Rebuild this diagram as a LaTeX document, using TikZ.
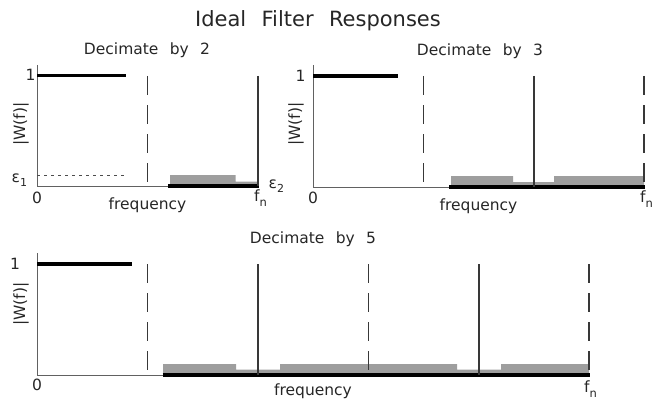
\documentclass[tikz,border=0pt]{standalone}
\usepackage{fontspec}
\setmainfont{DejaVu Sans}[WordSpace=2.3]
\newcommand{\labfont}{\fontsize{15.5}{17}\selectfont}
\newcommand{\titfont}{\fontsize{21}{24}\selectfont}
\newcommand{\subn}{\raisebox{-5pt}{\fontsize{11.5}{12}\selectfont n}}
\begin{document}
\begin{tikzpicture}[x=1pt,y=-1pt,
  axisline/.style={draw=black!62,line width=0.9pt},
  passline/.style={draw=black,line width=3.4pt},
  stopline/.style={draw=black,line width=3.6pt},
  solidv/.style={draw=black!78,line width=1.2pt},
  dashv/.style={draw=black!78,line width=1.5pt,dash pattern=on 19pt off 10pt},
  dotline/.style={draw=black!70,line width=0.7pt,dash pattern=on 2.5pt off 4.5pt},
  band/.style={fill=black!38,draw=none},
  lbl/.style={font=\labfont,text=black!85,inner sep=0pt},
  ttl/.style={font=\titfont,text=black!85,inner sep=0pt}]
\useasboundingbox (0,0) rectangle (652,401);
% title
\node[ttl,anchor=base] (title) at (318,27) {Ideal Filter Responses};
% ---------- Panel 1 ----------
\fill[band] (170,186) -- (170,175) -- (235.5,175) -- (235.5,181.5) -- (258,181.5) -- (258,186) -- cycle;
\draw[axisline] (37,65) -- (37,186) -- (258,186);
\draw[dotline] (37,175) -- (125,175);
\draw[stopline] (168,186) -- (259,186);
\draw[passline] (37,75.5) -- (126,75.5);
\draw[dashv] (147.5,76) -- (147.5,186);
\draw[solidv] (258,76) -- (258,186);
\node[lbl,anchor=base] (t1) at (147,55) {Decimate by 2};
\node[lbl] (one1) at (30.5,75) {1};
\node[lbl,rotate=90] (w1) at (21,124) {|W(f)|};
\node[lbl] (z1) at (37,198) {0};
\node[lbl,anchor=base] (fr1) at (147.5,209) {frequency};
\node[lbl,anchor=base west] (fn1) at (254,201) {f\subn};
\node[lbl,anchor=base west] (e1) at (11.5,182) {ε\raisebox{-4pt}{\fontsize{11}{12}\selectfont 1}};
\node[lbl,anchor=base west] (e2) at (268.5,188) {ε\raisebox{-4pt}{\fontsize{11}{12}\selectfont 2}};
% ---------- Panel 2 ----------
\fill[band] (451,187) -- (451,176) -- (513,176) -- (513,182) -- (554,182) -- (554,176) -- (644,176) -- (644,187) -- cycle;
\draw[axisline] (313,65) -- (313,187) -- (644,187);
\draw[stopline] (449,187) -- (645,187);
\draw[passline] (313,76) -- (398,76);
\draw[dashv] (423.5,76) -- (423.5,187);
\draw[dashv] (644,76) -- (644,187);
\draw[solidv] (534,76) -- (534,187);
\node[lbl,anchor=base] (t2) at (480,56) {Decimate by 3};
\node[lbl] (one2) at (300.5,76) {1};
\node[lbl,rotate=90] (w2) at (296,124) {|W(f)|};
\node[lbl] (z2) at (313,198) {0};
\node[lbl,anchor=base] (fr2) at (478.5,210) {frequency};
\node[lbl,anchor=base west] (fn2) at (640,202) {f\subn};
% ---------- Panel 3 ----------
\fill[band] (163,375) -- (163,364) -- (236,364) -- (236,369.5) -- (280,369.5) -- (280,364) -- (457,364) -- (457,369.5) -- (501,369.5) -- (501,364) -- (589,364) -- (589,375) -- cycle;
\draw[axisline] (37,253) -- (37,375) -- (589,375);
\draw[stopline] (162.5,375) -- (590,375);
\draw[passline] (37,264) -- (132,264);
\draw[dashv] (147.5,264) -- (147.5,375);
\draw[dashv] (368.5,264) -- (368.5,375);
\draw[dashv] (589,264) -- (589,375);
\draw[solidv] (258,264) -- (258,375);
\draw[solidv] (479,264) -- (479,375);
\node[lbl,anchor=base] (t3) at (313,243) {Decimate by 5};
\node[lbl] (one3) at (15,264) {1};
\node[lbl,rotate=90] (w3) at (21,304) {|W(f)|};
\node[lbl] (z3) at (37,385) {0};
\node[lbl,anchor=base] (fr3) at (313,395) {frequency};
\node[lbl,anchor=base west] (fn3) at (584,392) {f\subn};
\end{tikzpicture}
\end{document}
